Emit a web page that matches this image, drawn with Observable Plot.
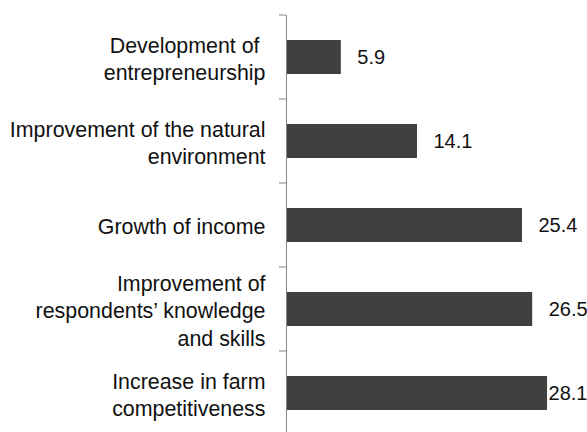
<!DOCTYPE html>
<html><head><meta charset="utf-8">
<script src="https://cdn.jsdelivr.net/npm/d3@7"></script>
<script src="https://cdn.jsdelivr.net/npm/@observablehq/plot@0.6"></script>
<style>
html,body{margin:0;padding:0;background:#fff;}
svg text{white-space:pre;}
</style></head><body><div id="chart"></div>
<script>
const categories = [
  "Development of entrepreneurship",
  "Improvement of the natural environment",
  "Growth of income",
  "Improvement of respondents’ knowledge and skills",
  "Increase in farm competitiveness"
];
const labels = [
  "Development of \nentrepreneurship",
  "Improvement of the natural\nenvironment",
  "Growth of income",
  "Improvement of\nrespondents’ knowledge\nand skills",
  "Increase in farm\ncompetitiveness"
];
const values = [5.9, 14.1, 25.4, 26.5, 28.1];

const data = categories.map((c, i) => ({category: c, label: labels[i], value: values[i]}));
const FONT = "'Liberation Sans', Arial, sans-serif";
const axisColor = "#868686";

function boundaryTicks(index, scales) {
  const y = scales.y, x = scales.x;
  const step = y(categories[1]) - y(categories[0]);
  const bw = y.bandwidth ? y.bandwidth() : step * 0.4;
  const gap = (step - bw) / 2;
  const pos = categories.map(c => y(c) - gap);
  pos.push(y(categories[categories.length - 1]) + bw + gap);
  const x0 = x(0);
  const g = d3.create("svg:g").attr("stroke", axisColor).attr("stroke-width", 1);
  for (const p of pos) {
    g.append("line").attr("x1", x0 - 7).attr("x2", x0).attr("y1", p).attr("y2", p);
  }
  return g.node();
}

const chart = Plot.plot({
  width: 587,
  height: 432,
  marginLeft: 286,
  marginRight: 0,
  marginTop: 15,
  marginBottom: -3,
  style: {fontFamily: FONT, background: "#fff", overflow: "visible"},
  x: {domain: [0, 32.4], axis: null},
  y: {domain: categories, axis: null, paddingInner: 0.6, paddingOuter: 0.3},
  marks: [
    Plot.barX(data, {x: "value", y: "category", fill: "#404040"}),
    Plot.ruleX([0], {stroke: axisColor, strokeWidth: 1}),
    boundaryTicks,
    Plot.text(data, {x: 0, y: "category", text: "label", textAnchor: "end", dx: -21,
      lineAnchor: "middle", lineHeight: 1.28, fontSize: 21.4, fill: "#111"}),
    Plot.text(data.filter(d => d.value < 28), {x: "value", y: "category", text: d => d.value.toFixed(1),
      textAnchor: "start", dx: 16, fontSize: 20, fill: "#111"}),
    Plot.text(data.filter(d => d.value >= 28), {y: "category", text: d => d.value.toFixed(1),
      frameAnchor: "right", textAnchor: "end", fontSize: 20, fill: "#111"})
  ]
});
document.getElementById("chart").appendChild(chart);
</script>
</body></html>
